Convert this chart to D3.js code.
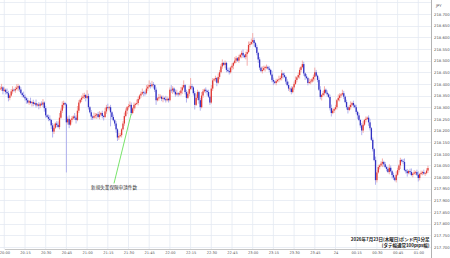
<!DOCTYPE html>
<html>
<head>
<meta charset="utf-8">
<script src="https://cdn.jsdelivr.net/npm/d3@7"></script>
<style>
  html, body { margin: 0; padding: 0; background: #fff; overflow: hidden; }
  svg { display: block; font-family: "Noto Sans CJK JP", "Noto Sans", sans-serif; }
</style>
</head>
<body>
<script>
// GBP/JPY 1 minute candles, 2026-07-23 19:57 -> 2026-07-24 01:07
const startTime = "2026-07-23T19:57:00"
const firstOpen = 218.378

const closes = [
  218.380, 218.385, 218.370, 218.375, 218.365, 218.360, 218.340, 218.350, 218.368, 218.375,
  218.372, 218.378, 218.384, 218.390, 218.376, 218.360, 218.352, 218.345, 218.338, 218.330,
  218.320, 218.326, 218.318, 218.322, 218.314, 218.318, 218.308, 218.312, 218.306, 218.315,
  218.311, 218.320, 218.296, 218.265, 218.258, 218.250, 218.245, 218.222, 218.195, 218.212,
  218.230, 218.224, 218.215, 218.255, 218.285, 218.310, 218.318, 218.312, 218.235, 218.250,
  218.225, 218.245, 218.252, 218.260, 218.255, 218.245, 218.285, 218.320, 218.332, 218.340,
  218.345, 218.352, 218.340, 218.348, 218.300, 218.278, 218.260, 218.255, 218.262, 218.265,
  218.270, 218.258, 218.268, 218.275, 218.262, 218.258, 218.282, 218.300, 218.296, 218.300,
  218.278, 218.258, 218.244, 218.230, 218.205, 218.170, 218.176, 218.180, 218.205, 218.230,
  218.262, 218.285, 218.300, 218.304, 218.310, 218.275, 218.295, 218.310, 218.314, 218.318,
  218.335, 218.350, 218.358, 218.365, 218.362, 218.360, 218.380, 218.388, 218.395, 218.390,
  218.398, 218.395, 218.375, 218.330, 218.338, 218.342, 218.345, 218.336, 218.340, 218.334,
  218.330, 218.336, 218.330, 218.375, 218.372, 218.380, 218.366, 218.355, 218.360, 218.355,
  218.360, 218.372, 218.385, 218.395, 218.365, 218.340, 218.358, 218.378, 218.390, 218.385,
  218.360, 218.310, 218.340, 218.365, 218.330, 218.300, 218.350, 218.368, 218.375, 218.370,
  218.365, 218.345, 218.320, 218.380, 218.415, 218.420, 218.425, 218.405, 218.430, 218.450,
  218.475, 218.490, 218.482, 218.490, 218.460, 218.455, 218.450, 218.470, 218.478, 218.490,
  218.500, 218.510, 218.500, 218.515, 218.525, 218.533, 218.522, 218.515, 218.528, 218.537,
  218.567, 218.572, 218.580, 218.588, 218.575, 218.558, 218.533, 218.505, 218.470, 218.455,
  218.460, 218.468, 218.473, 218.473, 218.466, 218.460, 218.440, 218.417, 218.410, 218.404,
  218.412, 218.417, 218.420, 218.425, 218.445, 218.438, 218.430, 218.410, 218.395, 218.380,
  218.380, 218.365, 218.385, 218.400, 218.417, 218.428, 218.438, 218.460, 218.472, 218.485,
  218.445, 218.432, 218.425, 218.404, 218.408, 218.410, 218.420, 218.430, 218.450, 218.435,
  218.417, 218.375, 218.344, 218.352, 218.360, 218.375, 218.362, 218.355, 218.344, 218.296,
  218.275, 218.285, 218.292, 218.300, 218.330, 218.340, 218.350, 218.355, 218.360, 218.345,
  218.322, 218.300, 218.288, 218.300, 218.310, 218.318, 218.308, 218.300, 218.280, 218.265,
  218.245, 218.222, 218.200, 218.225, 218.245, 218.250, 218.255, 218.235, 218.210, 218.160,
  218.120, 218.073, 217.987, 218.020, 218.043, 218.050, 218.058, 218.065, 218.055, 218.043,
  218.035, 218.022, 218.040, 218.025, 218.009, 217.998, 217.987, 218.010, 218.030, 218.050,
  218.073, 218.068, 218.065, 218.030, 218.025, 218.017, 218.026, 218.022, 218.009, 218.015,
  218.020, 218.022, 218.010, 217.996, 218.013, 218.018, 218.022, 218.015, 218.017, 218.028,
  218.039
]

// wick lengths beyond the body, in pips
const upWick = [
  1.0, 1.5, 0.5, 1.0, 0.5, 1.5, 1.0, 0.5, 1.0, 1.5, 0.5, 1.0, 1.5, 1.0, 0.5, 1.0, 0.5, 1.5, 1.0, 0.5,
  1.0, 0.5, 1.5, 0.5, 1.0, 0.5, 1.5, 0.5, 1.0, 0.5, 1.0, 1.5, 0.5, 1.0, 0.5, 1.0, 1.5, 0.5, 1.0, 1.5,
  0.5, 1.0, 1.5, 2.0, 1.0, 1.5, 1.0, 0.5, 0.5, 1.0, 1.5, 0.5, 1.0, 0.5, 1.5, 1.0, 2.0, 1.0, 0.5, 1.0,
  1.5, 1.0, 0.5, 2.5, 1.0, 0.5, 1.0, 0.5, 1.5, 1.0, 0.5, 1.0, 1.5, 0.5, 1.0, 0.5, 1.5, 1.0, 1.5, 0.5,
  1.0, 0.5, 1.0, 0.5, 1.0, 0.5, 1.5, 1.0, 0.5, 1.0, 1.5, 1.0, 0.5, 1.0, 1.5, 1.0, 0.5, 1.0, 0.5, 1.5,
  1.0, 0.5, 1.0, 1.5, 0.5, 1.0, 1.5, 1.0, 2.0, 1.0, 1.5, 1.0, 0.5, 1.0, 0.5, 1.5, 1.0, 0.5, 1.0, 0.5,
  1.5, 1.0, 0.5, 1.0, 2.0, 1.0, 0.5, 1.0, 1.5, 0.5, 1.0, 1.5, 1.0, 2.0, 0.5, 1.0, 1.0, 1.5, 3.5, 1.0,
  0.5, 1.0, 1.5, 1.0, 0.5, 1.0, 1.5, 1.0, 0.5, 1.0, 0.5, 1.0, 0.5, 1.5, 1.0, 0.5, 1.0, 0.5, 1.5, 1.0,
  1.0, 1.5, 0.5, 1.0, 0.5, 1.0, 1.5, 0.5, 1.0, 0.5, 1.5, 1.0, 0.5, 1.0, 0.5, 1.0, 1.5, 0.5, 1.0, 1.0,
  1.5, 1.0, 1.5, 3.0, 1.0, 0.5, 1.0, 0.5, 1.0, 0.5, 1.5, 1.0, 0.5, 1.0, 0.5, 1.0, 0.5, 1.5, 1.0, 0.5,
  1.0, 0.5, 1.5, 1.0, 1.5, 0.5, 1.0, 0.5, 1.0, 1.5, 0.5, 1.0, 0.5, 1.0, 1.5, 0.5, 1.0, 1.0, 0.5, 1.5,
  1.0, 0.5, 1.0, 0.5, 1.5, 1.0, 0.5, 1.0, 2.0, 1.0, 0.5, 1.0, 1.5, 0.5, 1.0, 1.5, 0.5, 1.0, 0.5, 1.0,
  1.5, 1.0, 0.5, 1.0, 0.5, 1.5, 1.0, 0.5, 1.5, 1.0, 0.5, 1.0, 0.5, 1.0, 1.5, 0.5, 1.0, 0.5, 1.0, 0.5,
  1.0, 0.5, 1.0, 1.5, 0.5, 1.0, 0.5, 1.0, 1.5, 0.5, 1.0, 0.5, 1.5, 1.0, 1.0, 0.5, 1.0, 1.5, 0.5, 1.0,
  0.5, 1.0, 1.5, 1.0, 0.5, 1.0, 0.5, 1.5, 1.0, 0.5, 1.0, 0.5, 1.0, 1.5, 0.5, 1.0, 0.5, 1.0, 1.5, 0.5,
  1.0, 0.5, 1.0, 1.5, 0.5, 1.0, 0.5, 1.0, 0.5, 1.0, 1.0
]

const dnWick = [
  0.5, 1.0, 1.5, 0.5, 1.0, 0.5, 1.5, 1.0, 0.5, 1.0, 0.5, 1.0, 0.5, 1.5, 1.0, 0.5, 1.0, 0.5, 1.0, 1.5,
  0.5, 1.0, 0.5, 1.5, 1.0, 0.5, 1.0, 0.5, 1.5, 1.0, 0.5, 1.0, 1.5, 1.0, 0.5, 1.0, 0.5, 1.5, 2.5, 1.0,
  0.5, 1.0, 0.5, 1.0, 0.5, 1.0, 1.5, 0.5, 21.5, 1.0, 1.5, 0.5, 1.0, 0.5, 1.0, 1.5, 0.5, 1.0, 0.5, 1.0,
  0.5, 1.0, 1.5, 0.5, 1.0, 0.5, 1.5, 1.0, 0.5, 1.0, 1.5, 0.5, 1.0, 0.5, 1.0, 1.5, 0.5, 1.0, 0.5, 1.0,
  6.0, 1.0, 0.5, 1.0, 1.5, 1.5, 1.0, 0.5, 1.0, 0.5, 1.0, 0.5, 1.5, 1.0, 0.5, 1.0, 0.5, 1.0, 1.5, 0.5,
  1.0, 0.5, 1.0, 0.5, 1.5, 1.0, 0.5, 1.0, 0.5, 1.0, 0.5, 1.5, 1.0, 2.0, 0.5, 1.0, 0.5, 1.0, 1.5, 0.5,
  1.0, 0.5, 1.0, 0.5, 1.0, 1.5, 0.5, 1.0, 0.5, 1.0, 0.5, 1.0, 1.5, 0.5, 1.0, 2.0, 0.5, 1.0, 0.5, 1.0,
  1.0, 2.0, 0.5, 1.0, 1.5, 1.5, 0.5, 1.0, 0.5, 1.0, 1.5, 0.5, 1.0, 0.5, 1.0, 0.5, 1.0, 1.5, 0.5, 1.0,
  0.5, 1.0, 0.5, 1.5, 1.0, 0.5, 1.0, 0.5, 1.0, 1.5, 0.5, 1.0, 0.5, 1.0, 0.5, 1.5, 1.0, 0.5, 1.0, 5.0,
  0.5, 1.0, 0.5, 1.0, 1.5, 0.5, 1.0, 1.5, 1.0, 0.5, 1.0, 0.5, 1.5, 1.0, 0.5, 1.0, 0.5, 1.0, 1.5, 0.5,
  1.0, 0.5, 1.0, 0.5, 1.0, 1.5, 0.5, 1.0, 0.5, 1.0, 1.5, 1.0, 0.5, 1.0, 0.5, 1.0, 0.5, 1.5, 1.0, 0.5,
  1.0, 1.5, 0.5, 1.0, 0.5, 1.0, 0.5, 1.0, 1.5, 0.5, 1.0, 0.5, 1.0, 1.5, 0.5, 1.0, 0.5, 1.0, 0.5, 1.0,
  1.5, 0.5, 1.0, 0.5, 1.0, 0.5, 1.5, 1.0, 0.5, 1.0, 0.5, 1.0, 1.5, 0.5, 1.0, 0.5, 1.0, 0.5, 1.0, 1.5,
  0.5, 1.0, 2.0, 1.0, 0.5, 1.0, 0.5, 1.5, 1.0, 0.5, 1.0, 0.5, 2.0, 1.0, 0.5, 1.0, 0.5, 1.5, 1.0, 0.5,
  1.0, 0.5, 1.0, 0.5, 1.5, 1.0, 0.5, 1.0, 0.5, 1.0, 1.5, 0.5, 1.0, 0.5, 1.0, 1.5, 0.5, 1.0, 0.5, 1.0,
  0.5, 1.0, 0.5, 1.5, 1.0, 0.5, 1.0, 0.5, 1.0, 0.5, 1.0
]

const priceTicks = [217.70, 217.75, 217.80, 217.85, 217.90, 217.95, 218.00, 218.05, 218.10, 218.15,
  218.20, 218.25, 218.30, 218.35, 218.40, 218.45, 218.50, 218.55, 218.60, 218.65, 218.70]
const priceGridExtra = [218.75]

const timeTicks = ["2026-07-23T20:00", "2026-07-23T20:15", "2026-07-23T20:30", "2026-07-23T20:45",
  "2026-07-23T21:00", "2026-07-23T21:15", "2026-07-23T21:30", "2026-07-23T21:45", "2026-07-23T22:00",
  "2026-07-23T22:15", "2026-07-23T22:30", "2026-07-23T22:45", "2026-07-23T23:00", "2026-07-23T23:15",
  "2026-07-23T23:30", "2026-07-23T23:45", "2026-07-24T00:00", "2026-07-24T00:15", "2026-07-24T00:30",
  "2026-07-24T00:45", "2026-07-24T01:00"]
const timeLabels = ["20:00", "20:15", "20:30", "20:45", "21:00", "21:15", "21:30", "21:45", "22:00",
  "22:15", "22:30", "22:45", "23:00", "23:15", "23:30", "23:45", "24", "00:15", "00:30", "00:45", "01:00"]

const noteText = "新規失業保険申請件数"
const noteFrom = { time: "2026-07-23T21:32", price: 218.273 }
const noteTo = { time: "2026-07-23T21:19:30", price: 217.973 }
const titleLines = ["2026年7月23日(木曜日)ポンド円1分足", "(タテ幅通常100pips幅)"]

const W = 450, H = 258
const plotRight = 431, plotBottom = 249
const upColor = "#e03a36", downColor = "#2f2fc2"
const upWickColor = "#f3a6a4", downWickColor = "#aaaaec"

const parse = s => new Date(s)
const t0 = parse(startTime)

let prev = firstOpen
const candles = closes.map((c, i) => {
  const o = prev
  prev = c
  return {
    t: new Date(t0.getTime() + i * 60000),
    o, c,
    h: Math.max(o, c) + upWick[i] / 100,
    l: Math.min(o, c) - dnWick[i] / 100
  }
})

const x = d3.scaleTime()
  .domain([parse(timeTicks[0]), parse(timeTicks[timeTicks.length - 1])])
  .range([4.3, 418.3])
const y = d3.scaleLinear().domain([217.7, 218.7]).range([247, 14])

const svg = d3.select("body").append("svg")
  .attr("width", W).attr("height", H)

svg.append("defs").append("clipPath").attr("id", "plot")
  .append("rect").attr("x", 0).attr("y", 0).attr("width", plotRight).attr("height", H)

const plot = svg.append("g").attr("clip-path", "url(#plot)")

// grid
plot.append("g").selectAll("line")
  .data(priceTicks.concat(priceGridExtra))
  .enter().append("line")
  .attr("x1", 0).attr("x2", plotRight)
  .attr("y1", d => Math.round(y(d)) + 0.5).attr("y2", d => Math.round(y(d)) + 0.5)
  .style("stroke", "#e5eaf3").style("stroke-width", 0.8)

plot.append("g").selectAll("line")
  .data(timeTicks)
  .enter().append("line")
  .attr("x1", d => x(parse(d))).attr("x2", d => x(parse(d)))
  .attr("y1", 0).attr("y2", plotBottom)
  .style("stroke", "#e5eaf3").style("stroke-width", 0.8)

// candles
const cell = plot.append("g").selectAll("g")
  .data(candles)
  .enter().append("g")

cell.append("line")
  .attr("x1", d => x(d.t)).attr("x2", d => x(d.t))
  .attr("y1", d => y(d.h)).attr("y2", d => y(d.l))
  .style("stroke", d => d.c >= d.o ? upWickColor : downWickColor)
  .style("stroke-width", 0.9)

cell.append("rect")
  .attr("x", d => x(d.t) - 0.65)
  .attr("width", 1.3)
  .attr("y", d => y(Math.max(d.o, d.c)))
  .attr("height", d => Math.max(0.7, Math.abs(y(d.o) - y(d.c))))
  .attr("fill", d => d.c >= d.o ? upColor : downColor)

// annotation
plot.append("line")
  .attr("x1", x(parse(noteFrom.time))).attr("y1", y(noteFrom.price))
  .attr("x2", x(parse(noteTo.time))).attr("y2", y(noteTo.price))
  .style("stroke", "#55dd44").style("stroke-width", 0.8)

plot.append("text")
  .attr("x", x(parse(noteTo.time)))
  .attr("y", y(noteTo.price) + 6)
  .attr("text-anchor", "middle")
  .style("font-size", "4.6px")
  .style("fill", "#333")
  .text(noteText)

// bottom axis
const xAxis = d3.axisBottom(x)
  .tickValues(timeTicks.map(parse))
  .tickFormat((d, i) => timeLabels[i])
  .tickSize(0)
  .tickPadding(2)

const gx = plot.append("g")
  .attr("transform", `translate(0,${plotBottom})`)
  .call(xAxis)
gx.select(".domain").style("stroke", "#b8b8b8").style("stroke-width", 0.8)
gx.selectAll("text").style("font-size", "3.6px").style("fill", "#555")
  .style("font-family", "'DejaVu Sans', sans-serif")

// right axis
svg.append("line")
  .attr("x1", plotRight + 0.5).attr("x2", plotRight + 0.5)
  .attr("y1", 0).attr("y2", H)
  .style("stroke", "#a0a0a0").style("stroke-width", 0.8)

const yAxis = d3.axisRight(y)
  .tickValues(priceTicks)
  .tickFormat(d3.format(".3f"))
  .tickSize(0)
  .tickPadding(3)

const gy = svg.append("g")
  .attr("transform", `translate(${plotRight},0)`)
  .call(yAxis)
gy.select(".domain").remove()
gy.selectAll("text").style("font-size", "3.8px").style("fill", "#555")
  .style("font-family", "'DejaVu Sans', sans-serif")

svg.append("text")
  .attr("x", 436).attr("y", 6.5)
  .style("font-size", "3.8px").style("fill", "#555")
  .style("font-family", "'DejaVu Sans', sans-serif")
  .text("JPY")

// title block, bottom right
svg.append("g").selectAll("text")
  .data(titleLines)
  .enter().append("text")
  .attr("x", plotRight - 1.5)
  .attr("y", (d, i) => 241 + i * 6)
  .attr("text-anchor", "end")
  .style("font-size", "4.5px")
  .style("font-weight", "bold")
  .style("fill", "#222")
  .text(d => d)
</script>
</body>
</html>
